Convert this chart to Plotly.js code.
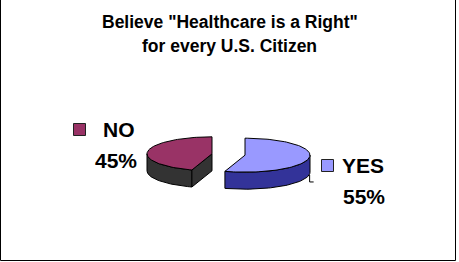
<!DOCTYPE html>
<html>
<head>
<meta charset="utf-8">
<script src="https://cdn.plot.ly/plotly-3.0.1.min.js"></script>
<style>html,body{margin:0;padding:0;background:#fff;}#chart{width:459px;height:262px;}</style>
</head>
<body>
<div id="chart"></div>
<script>
// ---- data ----
const categories = ['YES', 'NO'];
const values = [55, 45];
const pctLabels = ['55%', '45%'];
const topColors = ['#9999FF', '#993366'];
const sideColors = ['#333399', '#333333'];
const titleLines = ['Believe "Healthcare is a Right"', 'for every U.S. Citizen'];

// ---- 3D pie geometry (style parameters) ----
const W = 459, H = 262;
const pie = {cx: 228.5, cy: 154.5, rx: 65, ry: 17, depth: 17, explode: 0.257, rotation: 0};
const rad = d => d * Math.PI / 180;

function topPt(c, th) { return [c[0] + pie.rx * Math.sin(rad(th)), c[1] - pie.ry * Math.cos(rad(th))]; }
function botPt(c, th) { const p = topPt(c, th); return [p[0], p[1] + pie.depth]; }
function arc(c, a0, a1, fn) {
  const pts = [];
  const n = Math.max(2, Math.ceil(Math.abs(a1 - a0) / 2));
  for (let i = 0; i <= n; i++) pts.push(fn(c, a0 + (a1 - a0) * i / n));
  return pts;
}
function poly(pts, fill) {
  const xs = pts.map(p => p[0]), ys = pts.map(p => p[1]);
  xs.push(xs[0]); ys.push(ys[0]);
  return {type: 'scatter', mode: 'lines', x: xs, y: ys, fill: 'toself', fillcolor: fill,
          line: {color: '#000', width: 1}, hoverinfo: 'skip', showlegend: false};
}

const total = values.reduce((a, b) => a + b, 0);
const slices = [];
let start = pie.rotation;
values.forEach((v, i) => {
  const sweep = v / total * 360;
  const a0 = start, a1 = start + sweep, mid = (a0 + a1) / 2;
  const c = [pie.cx + pie.explode * pie.rx * Math.sin(rad(mid)),
             pie.cy - pie.explode * pie.ry * Math.cos(rad(mid))];
  slices.push({i, a0, a1, c});
  start = a1;
});

const traces = [];
// draw slices back-to-front: NO (index 1) then YES (index 0)
[1, 0].forEach(k => {
  const s = slices[k];
  const c = s.c, cb = [c[0], c[1] + pie.depth];
  // rim wall (front half)
  const w0 = Math.max(s.a0, 90), w1 = Math.min(s.a1, 270);
  if (w1 > w0) {
    const pts = arc(c, w0, w1, topPt).concat(arc(c, w0, w1, botPt).reverse());
    traces.push(poly(pts, sideColors[k]));
  }
  // visible cut faces
  if (Math.sin(rad(s.a0)) < -1e-6) {
    traces.push(poly([c, topPt(c, s.a0), botPt(c, s.a0), cb], sideColors[k]));
  }
  if (Math.sin(rad(s.a1)) > 1e-6) {
    traces.push(poly([c, topPt(c, s.a1), botPt(c, s.a1), cb], sideColors[k]));
  }
  // top face
  traces.push(poly([c].concat(arc(c, s.a0, s.a1, topPt)), topColors[k]));
});

// leader line for YES label
(function () {
  const s = slices[0];
  const p = botPt(s.c, 96);
  traces.push({type: 'scatter', mode: 'lines', x: [p[0], p[0], p[0] + 4], y: [p[1] + 1, p[1] + 8, p[1] + 8],
               line: {color: '#000', width: 1}, hoverinfo: 'skip', showlegend: false});
})();

// legend keys beside data labels
const labelPos = [
  {key: [327.5, 165.5], name: [340, 165.5], pct: [341, 196.5]},
  {key: [79.5, 129.5], name: [101, 129.5], pct: [93, 160]}
];
traces.push({type: 'scatter', mode: 'markers',
  x: labelPos.map(p => p.key[0]), y: labelPos.map(p => p.key[1]),
  marker: {symbol: 'square', size: 12, color: topColors, line: {color: '#222', width: 1}},
  hoverinfo: 'skip', showlegend: false});

const font = 'Liberation Sans, Arial, sans-serif';
const annotations = [];
titleLines.forEach((t, j) => {
  annotations.push({x: 229.5, y: [22.2, 45.6][j], xref: 'x', yref: 'y', text: '<b>' + t + '</b>',
    showarrow: false, xanchor: 'center', yanchor: 'middle', font: {family: font, size: 17.5, color: '#000'}});
});
categories.forEach((cat, k) => {
  const p = labelPos[k];
  annotations.push({x: p.name[0], y: p.name[1], xref: 'x', yref: 'y', text: '<b>' + cat + '</b>',
    showarrow: false, xanchor: 'left', yanchor: 'middle', font: {family: font, size: 21, color: '#000'}});
  annotations.push({x: p.pct[0], y: p.pct[1], xref: 'x', yref: 'y', text: '<b>' + pctLabels[k] + '</b>',
    showarrow: false, xanchor: 'left', yanchor: 'middle', font: {family: font, size: 21, color: '#000'}});
});

const layout = {
  width: W, height: H, margin: {l: 0, r: 0, t: 0, b: 0, pad: 0},
  paper_bgcolor: '#fff', plot_bgcolor: '#fff', showlegend: false,
  xaxis: {range: [0, W], visible: false, fixedrange: true},
  yaxis: {range: [H, 0], visible: false, fixedrange: true},
  annotations: annotations,
  shapes: [
    {type: 'line', xref: 'x', yref: 'y', x0: 0.5, x1: 0.5, y0: 0, y1: 260.5, line: {color: '#000', width: 1}},
    {type: 'line', xref: 'x', yref: 'y', x0: 0.5, x1: 455.5, y0: 260.5, y1: 260.5, line: {color: '#000', width: 1}},
    {type: 'line', xref: 'x', yref: 'y', x0: 455.5, x1: 455.5, y0: 0, y1: 260.5, line: {color: '#000', width: 1}}
  ]
};

Plotly.newPlot('chart', traces, layout, {displayModeBar: false, staticPlot: true});
</script>
</body>
</html>
